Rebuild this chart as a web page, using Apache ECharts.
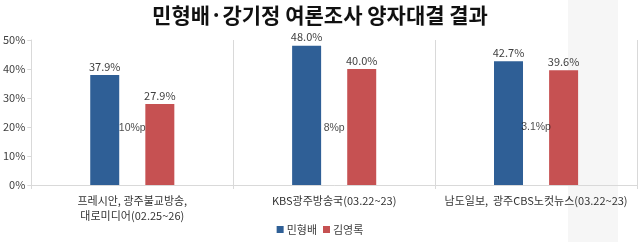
<!DOCTYPE html>
<html><head><meta charset="utf-8">
<script src="https://cdn.jsdelivr.net/npm/echarts@6/dist/echarts.min.js"></script>
<style>html,body{margin:0;padding:0;background:#fff}#c{width:640px;height:242px}</style>
</head><body><div id="c"></div>
<script>
var titleText = '민형배·강기정 여론조사 양자대결 결과';
var categories = ['프레시안, 광주불교방송,\n대로미디어(02.25~26)', 'KBS광주방송국(03.22~23)', '남도일보,  광주CBS노컷뉴스(03.22~23)'];
var seriesNames = ['민형배', '김영록'];
var minValues = [37.9, 48.0, 42.7];
var kimValues = [27.9, 40.0, 39.6];
var gapLabels = ['10%p', '8%p', '3.1%p'];
var gapLabelLevel = [19.5, 19.5, 20];
var yTicks = [0, 10, 20, 30, 40, 50];

var font = '"Noto Sans CJK KR", "Noto Sans", sans-serif';
var chart = echarts.init(document.getElementById('c'));
chart.setOption({
  animation: false,
  textStyle: {fontFamily: font},
  graphic: [{type: 'rect', shape: {x: 568, y: 0, width: 50, height: 242}, style: {fill: '#f6f6f6'}, z: -10}],
  title: {text: titleText, left: 'center', top: 0, textStyle: {fontSize: 21, fontWeight: 'bold', color: '#111', fontFamily: font}},
  grid: {left: 31, right: 3, top: 40, bottom: 57},
  legend: {bottom: 2, left: 'center', itemWidth: 7, itemHeight: 7, itemGap: 6, icon: 'rect',
    textStyle: {fontSize: 11, color: '#404040', padding: [0,0,0,-2]}, data: seriesNames},
  xAxis: {type: 'category', data: categories,
    axisLine: {lineStyle: {color: '#d9d9d9'}},
    axisTick: {show: true, length: 4, lineStyle: {color: '#d9d9d9'}},
    splitLine: {show: true, lineStyle: {color: '#d9d9d9'}},
    axisLabel: {fontSize: 11, color: '#333', margin: 8, lineHeight: 15, interval: 0}},
  yAxis: {type: 'value', min: yTicks[0], max: yTicks[yTicks.length-1], interval: 10,
    axisLine: {show: true, lineStyle: {color: '#d9d9d9'}},
    axisTick: {show: true, length: 4, lineStyle: {color: '#d9d9d9'}},
    splitLine: {show: false},
    axisLabel: {fontSize: 11, color: '#404040', margin: 6, formatter: '{value}%'}},
  series: [
    {name: seriesNames[0], type: 'bar', data: minValues, barWidth: 29, barGap: '90%',
     itemStyle: {color: '#2f5f96'},
     label: {show: true, position: 'top', distance: 3, fontSize: 11, color: '#404040', formatter: function(p){return p.value.toFixed(1)+'%';}}},
    {name: seriesNames[1], type: 'bar', data: kimValues, barWidth: 29,
     itemStyle: {color: '#c65152'},
     label: {show: true, position: 'top', distance: 3, fontSize: 11, color: '#404040', formatter: function(p){return p.value.toFixed(1)+'%';}}},
    {type: 'scatter', data: gapLabelLevel.map(function(v,i){return [i, v];}), symbolSize: 0, silent: true, z: 10,
     label: {show: true, position: 'inside', fontSize: 10.5, fontFamily: '"Liberation Sans", Arial, sans-serif', color: '#1a1a1a', formatter: function(p){return gapLabels[p.dataIndex];}}}
  ]
});
</script></body></html>
